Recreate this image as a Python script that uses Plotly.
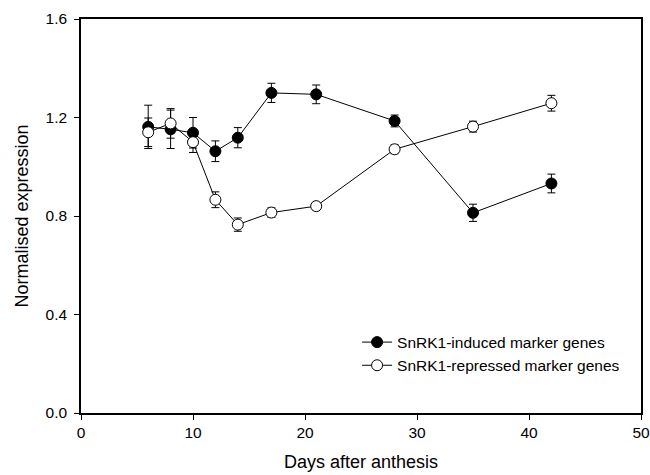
import plotly.graph_objects as go

days = [6, 8, 10, 12, 14, 17, 21, 28, 35, 42]
induced = [1.162, 1.152, 1.138, 1.063, 1.118, 1.300, 1.294, 1.186, 0.813, 0.932]
induced_err = [0.088, 0.078, 0.062, 0.042, 0.041, 0.039, 0.038, 0.024, 0.035, 0.038]
repressed = [1.140, 1.176, 1.100, 0.866, 0.765, 0.814, 0.840, 1.071, 1.163, 1.258]
repressed_err = [0.058, 0.060, 0.042, 0.032, 0.027, 0.019, 0.015, 0.018, 0.022, 0.032]

x_ticks = [0, 10, 20, 30, 40, 50]
y_ticks = [0.0, 0.4, 0.8, 1.2, 1.6]

font_family = "Liberation Sans, Arial, sans-serif"

fig = go.Figure()
fig.add_trace(go.Scatter(
    x=days, y=induced, mode="lines+markers",
    name="SnRK1-induced marker genes",
    line=dict(color="black", width=1),
    marker=dict(symbol="circle", size=11, color="black", line=dict(color="black", width=1)),
    error_y=dict(type="data", array=induced_err, visible=True, color="black", thickness=1, width=4),
))
fig.add_trace(go.Scatter(
    x=days, y=repressed, mode="lines+markers",
    name="SnRK1-repressed marker genes",
    line=dict(color="black", width=1),
    marker=dict(symbol="circle", size=11, color="white", line=dict(color="black", width=1)),
    error_y=dict(type="data", array=repressed_err, visible=True, color="black", thickness=1, width=4),
))

fig.update_layout(
    width=650, height=475,
    margin=dict(l=81, r=9, t=19, b=62, autoexpand=False),
    paper_bgcolor="white", plot_bgcolor="white",
    font=dict(family=font_family, size=15, color="black"),
    showlegend=True,
    legend=dict(x=0.493, y=0.222, xanchor="left", yanchor="top",
                bgcolor="rgba(0,0,0,0)", font=dict(size=15.5), itemwidth=30,
                tracegroupgap=0, borderwidth=0),
    xaxis=dict(range=[0, 50], tickvals=x_ticks, ticks="outside", ticklen=5, tickwidth=1,
               tickcolor="black", showline=True, linecolor="black", linewidth=1.5,
               mirror=True, showgrid=False, zeroline=False, automargin=False,
               tickfont=dict(size=15.5),
               title=dict(text="Days after anthesis", font=dict(size=18), standoff=15)),
    yaxis=dict(range=[0, 1.6], tickvals=y_ticks, tickformat=".1f", ticks="outside", ticklen=5,
               tickwidth=1, tickcolor="black", showline=True, linecolor="black", linewidth=1.5,
               mirror=True, showgrid=False, zeroline=False, automargin=False,
               tickfont=dict(size=15.5), ticklabelstandoff=4,
               title=dict(text="Normalised expression", font=dict(size=18), standoff=12)),
)

# remove the default 8px page margin so the 650x475 figure fills the window exactly
fig.write_html(
    "out.html",
    config={"displayModeBar": False},
    post_script="document.body.style.margin='0px';document.body.style.overflow='hidden';",
)
